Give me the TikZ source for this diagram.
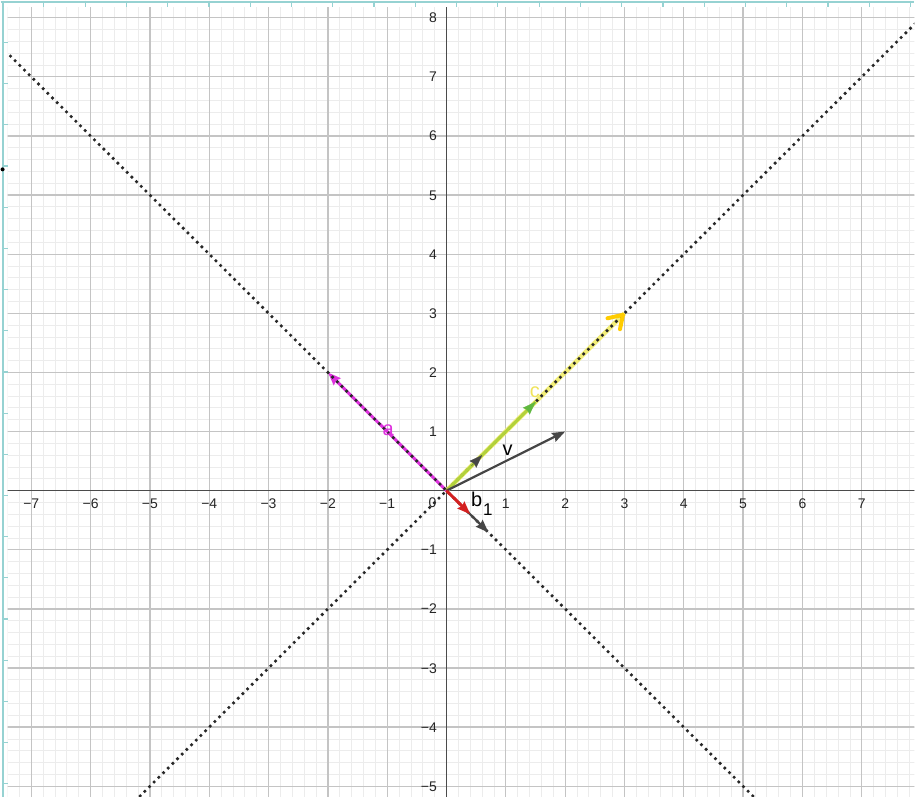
\documentclass[tikz,border=0pt]{standalone}
\usepackage{fontspec}
\setmainfont{Liberation Sans}
\usetikzlibrary{arrows.meta,calc}
\definecolor{axisgray}{RGB}{75,75,75}
\definecolor{majorgray}{RGB}{196,196,196}
\definecolor{minorgray}{RGB}{236,236,236}
\definecolor{framecol}{RGB}{150,210,210}
\definecolor{dotcol}{RGB}{40,40,40}
\definecolor{magentaA}{RGB}{222,50,222}
\definecolor{paleyellow}{RGB}{242,238,120}
\definecolor{goldC}{RGB}{255,204,0}
\definecolor{labelC}{RGB}{240,228,90}
\definecolor{ygreen}{RGB}{178,210,60}
\definecolor{greenhead}{RGB}{96,184,64}
\definecolor{darkvec}{RGB}{70,70,70}
\definecolor{redvec}{RGB}{212,32,32}
\newcommand\numlab[1]{\ifnum#1<0 −\number\numexpr-#1\relax\else#1\fi}
\tikzset{
  minorgrid/.style={draw=minorgray, line width=0.8pt},
  majorgrid/.style={draw=majorgray, line width=1.3pt},
  axisline/.style={draw=axisgray, line width=1.5pt},
  dotline/.style={draw=dotcol, line width=3.6pt, line cap=round, dash pattern=on 0pt off 6.6pt},
  framelines/.style={draw=framecol, line width=1.2pt},
  numlabel/.style={inner sep=0pt, font=\fontsize{14}{14}\selectfont, text=black!85},
  veclabel/.style={inner sep=0pt, font=\fontsize{20}{20}\selectfont},
  vhead/.style={-{Stealth[length=13pt,width=9.5pt,inset=1.5pt]}},
}
\begin{document}
\begin{tikzpicture}[x=59.4pt,y=59.2pt]
% pixel frame scope
\begin{scope}[x=1pt,y=-1pt,shift={(-446.5pt,490.7pt)}]
  \fill[white] (0,0) rectangle (915,797);
  \path[use as bounding box] (0,0) rectangle (915,797);
\end{scope}
\begin{scope}
  \clip (-439.5pt,483.7pt) rectangle (468.5pt,-306.3pt);
  \draw[minorgrid, step=0.2] (-7.8,-5.4) grid (8,8.4);
  \draw[majorgrid, step=1] (-7.8,-5.4) grid (8,8.4);
  \draw[axisline] (-7.8,0) -- (8,0);
  \draw[axisline] (0,-5.4) -- (0,8.4);
  % axis numbers
  \foreach \i in {-7,...,-1,1,2,...,7}
    \node[numlabel, anchor=base, yshift=-17.8pt] at (\i,0) {\numlab{\i}};
  \foreach \j in {-5,...,-1,1,2,...,8}
    \node[numlabel, anchor=base east, xshift=-9.5pt, yshift=-5pt] at (0,\j) {\numlab{\j}};
  \node[numlabel, anchor=base east, xshift=-10pt, yshift=-17pt] (o) at (0,0) {0};
  % pale c and magenta a shafts
  \coordinate (O) at (0,0);
  \coordinate (A) at (-2,2);
  \coordinate (C) at (3,3);
  \draw[draw=paleyellow, line width=4.5pt] (O) -- (C);
  \draw[draw=magentaA, fill=magentaA, line width=3pt, vhead] (O) -- (A);
  % dotted lines
  \draw[dotline] (-7.35,7.35) -- (5.4,-5.4);
  \draw[dotline] (-5.4,-5.4) -- (8.1,8.1);
  % gold chevron
  \draw[draw=goldC, line width=4pt, line cap=round, line join=round]
    ($(C)+(-17pt,-5pt)$) -- ($(C)+(-1.5pt,-1.5pt)$) -- ($(C)+(-4.5pt,-16pt)$);
  % green projection
  \coordinate (P) at (1.5,1.5);
  \draw[draw=ygreen, line width=3pt] (O) -- (P);
  \draw[draw=greenhead, fill=greenhead, line width=0.1pt, vhead] ($(O)!0.9!(P)$) -- (P);
  % small dark unit vector
  \coordinate (U) at (0.6,0.6);
  \draw[draw=darkvec, fill=darkvec, line width=0.1pt, vhead] ($(O)!0.7!(U)$) -- (U);
  % v
  \coordinate (V) at (2,1);
  \draw[draw=darkvec, fill=darkvec, line width=2.2pt, vhead] (O) -- (V);
  % b vectors
  \coordinate (B) at (0.707,-0.707);
  \coordinate (R) at (0.4,-0.4);
  \draw[draw=darkvec, fill=darkvec, line width=2.2pt, vhead] (O) -- (B);
  \draw[draw=redvec, fill=redvec, line width=3pt, vhead] (O) -- (R);
  % labels
  \node[veclabel, text=magentaA] (la) at (-0.985,1.03) {a};
  \node[veclabel, text=labelC] (lc) at (1.49,1.67) {c};
  \node[veclabel, text=black] (lv) at (1.03,0.68) {v};
  \node[veclabel, text=black, anchor=base west] (lb) at ([xshift=24.5pt,yshift=-16pt]O) {b};
  \node[veclabel, text=black, anchor=base west, font=\fontsize{17}{17}\selectfont] (l1) at ([xshift=0.5pt,yshift=-9.3pt]lb.base east) {1};
\end{scope}
% frame rulers
\begin{scope}[x=1pt,y=-1pt,shift={(-446.5pt,490.7pt)}]
  \draw[framelines] (2.5,0) -- (2.5,797);
  \draw[framelines] (0,1.5) -- (915,1.5);
  \foreach \k in {0,...,21} \draw[framelines] (43.3+41.33*\k,0) -- ++(0,6);
  \foreach \k in {0,...,18} \draw[framelines] (2.5,41.8+41.25*\k) -- ++(4.5,0);
  \fill[black] (2,169) circle (2);
\end{scope}
\end{tikzpicture}
\end{document}
